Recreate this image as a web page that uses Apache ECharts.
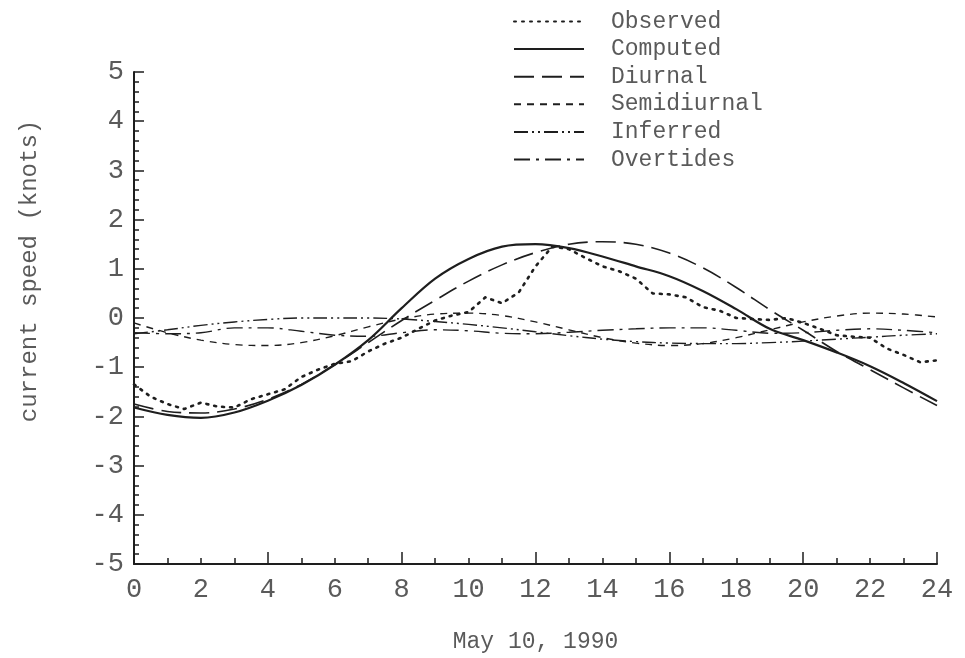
<!DOCTYPE html>
<html><head><meta charset="utf-8">
<script src="https://cdn.jsdelivr.net/npm/echarts@6/dist/echarts.min.js"></script>
<style>html,body{margin:0;padding:0;background:#fff}#c{width:965px;height:658px}</style>
</head><body><div id="c"></div>
<script>
// Hourly model curves (hours 0..24)
var hours = [0,1,2,3,4,5,6,7,8,9,10,11,12,13,14,15,16,17,18,19,20,21,22,23,24];
var computed = [-1.82,-1.97,-2.03,-1.92,-1.68,-1.36,-0.95,-0.45,0.2,0.8,1.2,1.45,1.5,1.42,1.25,1.05,0.85,0.55,0.18,-0.22,-0.45,-0.7,-0.98,-1.32,-1.69];
var diurnal = [-1.75,-1.9,-1.93,-1.85,-1.65,-1.35,-0.95,-0.5,-0.05,0.36,0.75,1.08,1.33,1.5,1.55,1.5,1.32,1.02,0.62,0.17,-0.25,-0.68,-1.05,-1.42,-1.78];
var semidiurnal = [-0.1,-0.3,-0.45,-0.54,-0.56,-0.5,-0.36,-0.18,-0.02,0.08,0.1,0.05,-0.08,-0.24,-0.4,-0.51,-0.56,-0.52,-0.4,-0.24,-0.08,0.04,0.1,0.08,0.02];
var inferred = [-0.32,-0.24,-0.15,-0.08,-0.03,0.0,0.0,0.0,-0.02,-0.07,-0.13,-0.2,-0.28,-0.36,-0.43,-0.48,-0.51,-0.52,-0.52,-0.5,-0.47,-0.43,-0.39,-0.35,-0.32];
var overtides = [-0.3,-0.32,-0.3,-0.2,-0.2,-0.27,-0.35,-0.37,-0.3,-0.24,-0.26,-0.31,-0.32,-0.29,-0.25,-0.22,-0.2,-0.2,-0.25,-0.31,-0.3,-0.25,-0.22,-0.25,-0.3];
// Observed (half-hourly)
var obsHours = [0,0.5,1,1.5,2,2.5,3,3.5,4,4.5,5,5.5,6,6.5,7,7.5,8,8.5,9,9.5,10,10.5,11,11.5,12,12.5,13,13.5,14,14.5,15,15.5,16,16.5,17,17.5,18,18.5,19,19.5,20,20.5,21,21.5,22,22.5,23,23.5,24];
var observed = [-1.35,-1.6,-1.75,-1.85,-1.72,-1.8,-1.82,-1.65,-1.55,-1.45,-1.2,-1.05,-0.93,-0.88,-0.68,-0.52,-0.4,-0.22,-0.05,0.05,0.12,0.42,0.3,0.52,1.05,1.45,1.4,1.22,1.05,0.95,0.8,0.5,0.48,0.42,0.22,0.15,0.0,-0.02,-0.04,0.0,-0.1,-0.22,-0.35,-0.38,-0.4,-0.62,-0.75,-0.9,-0.86];
var xLabelTicks = [0,2,4,6,8,10,12,14,16,18,20,22,24];
var yLabelTicks = [-5,-4,-3,-2,-1,0,1,2,3,4,5];
var seriesNames = ['Observed','Computed','Diurnal','Semidiurnal','Inferred','Overtides'];

function pairs(xs, ys){ return xs.map(function(x,i){ return [x, ys[i]]; }); }

var FONT = "'Liberation Mono', 'DejaVu Sans Mono', monospace";
var TXT = '#5a5a5a';
var INK = '#1e1e1e';

var chart = echarts.init(document.getElementById('c'), null, {renderer:'canvas'});
var option = {
  backgroundColor:'#ffffff',
  animation:false,
  grid:{left:134, right:28, top:72, bottom:88, containLabel:false},
  legend:{
    orient:'vertical', left:508, top:5,
    itemWidth:70, itemHeight:14, itemGap:4.6,
    data:seriesNames,
    itemStyle:{opacity:0, borderWidth:0},
    textStyle:{fontFamily:FONT, fontSize:23, color:TXT, padding:[0,0,0,22], lineHeight:21}
  },
  xAxis:[{
    type:'value', min:0, max:24, interval:4, position:'bottom',
    axisLine:{onZero:false, lineStyle:{color:INK, width:2}},
    axisTick:{inside:true, length:12, lineStyle:{color:INK, width:1.5}},
    minorTick:{show:true, splitNumber:4, length:6, lineStyle:{color:INK, width:1.5}},
    axisLabel:{show:false}, splitLine:{show:false},
    name:'May 10, 1990', nameLocation:'middle', nameGap:66,
    nameTextStyle:{fontFamily:FONT, fontSize:23, color:TXT}
  },{
    type:'value', min:0, max:24, interval:2, position:'bottom', offset:0,
    axisLine:{show:false, onZero:false}, axisTick:{show:false}, splitLine:{show:false},
    axisLabel:{fontFamily:FONT, fontSize:27, color:TXT, margin:12,
      formatter:function(v){ return xLabelTicks.indexOf(v)>=0 ? String(v) : ''; }}
  }],
  yAxis:{
    type:'value', min:-5, max:5, interval:1,
    axisLine:{onZero:false, lineStyle:{color:INK, width:2}},
    axisTick:{inside:true, length:10, lineStyle:{color:INK, width:1.5}},
    minorTick:{show:true, splitNumber:5, length:5, lineStyle:{color:INK, width:1.5}},
    splitLine:{show:false},
    axisLabel:{fontFamily:FONT, fontSize:27, color:TXT, margin:10,
      formatter:function(v){ return yLabelTicks.indexOf(v)>=0 ? String(v) : ''; }}
  },
  graphic:[{
    type:'text', x:30, y:271, rotation:Math.PI/2,
    style:{text:'current speed (knots)', fontFamily:FONT, fontSize:24, fill:TXT, align:'center', verticalAlign:'middle'}
  }],
  series:[
    {name:'Observed', type:'line', data:pairs(obsHours, observed), showSymbol:false, symbol:'none',
      lineStyle:{color:INK, width:2.6, type:[2,6], cap:'round'}, itemStyle:{color:INK}},
    {name:'Computed', type:'line', data:pairs(hours, computed), smooth:0.35, showSymbol:false, symbol:'none',
      lineStyle:{color:INK, width:2.2, type:'solid'}, itemStyle:{color:INK}},
    {name:'Diurnal', type:'line', data:pairs(hours, diurnal), smooth:0.35, showSymbol:false, symbol:'none',
      lineStyle:{color:INK, width:1.6, type:[20,8]}, itemStyle:{color:INK}},
    {name:'Semidiurnal', type:'line', data:pairs(hours, semidiurnal), smooth:0.35, showSymbol:false, symbol:'none',
      lineStyle:{color:INK, width:1.4, type:[7,6]}, itemStyle:{color:INK}},
    {name:'Inferred', type:'line', data:pairs(hours, inferred), smooth:0.35, showSymbol:false, symbol:'none',
      lineStyle:{color:INK, width:1.4, type:[14,4,2,4,2,4]}, itemStyle:{color:INK}},
    {name:'Overtides', type:'line', data:pairs(hours, overtides), smooth:0.35, showSymbol:false, symbol:'none',
      lineStyle:{color:INK, width:1.4, type:[16,6,3,6]}, itemStyle:{color:INK}}
  ]
};
chart.setOption(option);
</script>
</body></html>
